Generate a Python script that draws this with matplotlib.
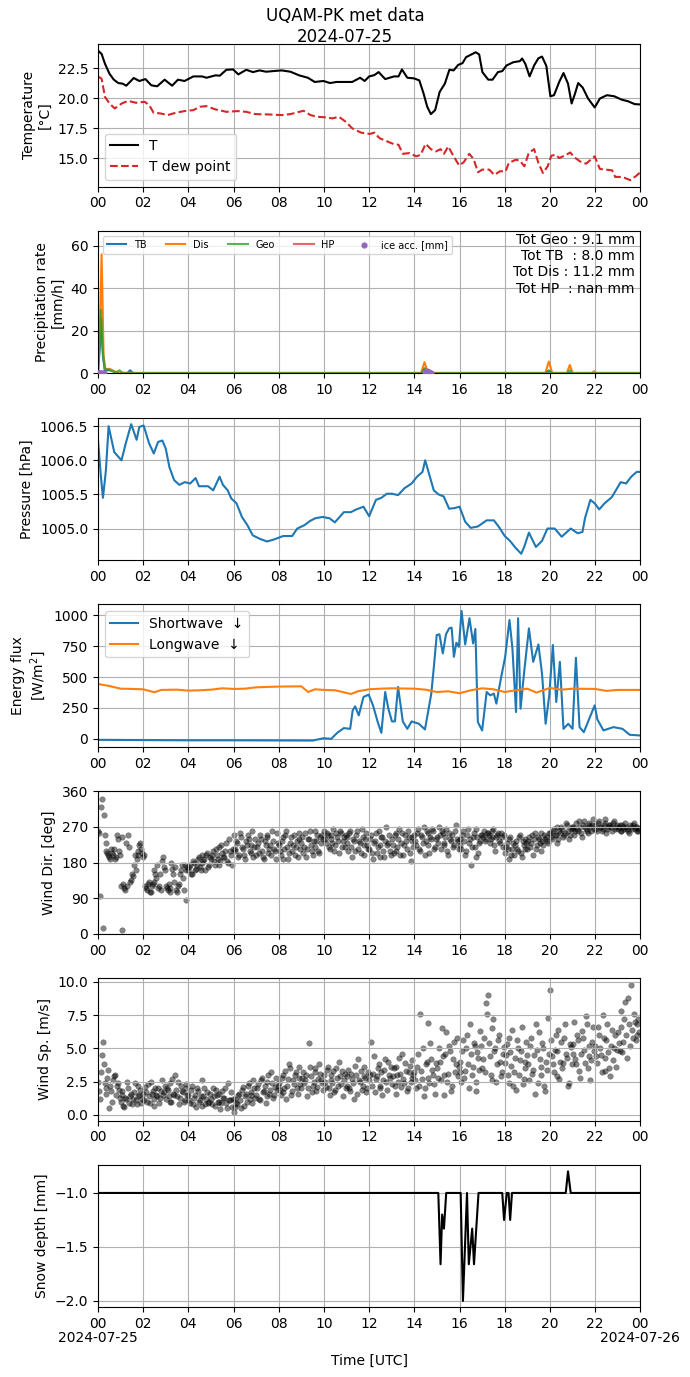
import numpy as np
import pandas as pd
import matplotlib
matplotlib.use("Agg")
import matplotlib.pyplot as plt
import matplotlib.dates as mdates
from matplotlib.ticker import FuncFormatter

BASE = pd.Timestamp("2024-07-25 00:00")

# ---------------- data (hours since 00 UTC) ----------------
temp_h = [0, 0.16, 0.31, 0.51, 0.7, 0.9, 1.09, 1.25, 1.44, 1.58, 1.83, 2.1, 2.36, 2.62,
          2.95, 3.28, 3.54, 3.83, 4.22, 4.61, 4.8, 5.2, 5.39, 5.68, 5.98, 6.21, 6.56,
          6.86, 7.15, 7.44, 7.73, 8.13, 8.52, 8.9, 9.29, 9.59, 9.98, 10.27, 10.56,
          10.86, 11.25, 11.6, 11.8, 12.0, 12.23, 12.42, 12.71, 13.1, 13.3, 13.45, 13.69,
          13.98, 14.22, 14.41, 14.57, 14.73, 14.92, 15.12, 15.35, 15.55, 15.74, 15.94,
          16.13, 16.29, 16.52, 16.72, 16.87, 17.01, 17.27, 17.46, 17.7, 17.89, 18.08,
          18.38, 18.67, 18.77, 18.91, 19.1, 19.3, 19.49, 19.65, 19.84, 20.02, 20.18,
          20.41, 20.6, 20.8, 20.96, 21.11, 21.25, 21.45, 21.69, 21.98, 22.21, 22.52,
          22.85, 23.16, 23.45, 23.75, 24.0]
temp_T = [23.96, 23.68, 22.86, 22.03, 21.54, 21.26, 21.21, 21.04, 21.40, 21.68, 21.43,
          21.59, 21.07, 20.99, 21.54, 21.04, 21.54, 21.43, 21.81, 21.81, 21.70, 21.90,
          21.87, 22.36, 22.39, 21.98, 22.36, 22.17, 22.31, 22.20, 22.25, 22.31, 22.20,
          21.90, 21.70, 21.35, 21.43, 21.26, 21.35, 21.35, 21.35, 21.70, 21.43, 21.81,
          21.92, 22.17, 21.59, 21.81, 21.81, 22.39, 21.70, 21.65, 21.48, 20.38, 19.29,
          18.68, 19.01, 20.52, 21.21, 22.36, 22.31, 22.77, 22.91, 23.41, 23.63, 23.82,
          23.63, 22.17, 21.54, 21.54, 22.17, 22.25, 22.72, 22.99, 23.08, 23.30, 22.86,
          21.81, 22.72, 23.32, 23.46, 22.69, 20.16, 20.25, 21.35, 22.09, 21.21, 19.56,
          20.38, 21.26, 20.88, 19.97, 19.23, 19.97, 20.25, 20.16, 19.89, 19.75, 19.51,
          19.48]

dew_h = [0, 0.16, 0.31, 0.51, 0.74, 1.05, 1.33, 1.68, 2.07, 2.27, 2.46, 2.75, 3.09,
         3.44, 3.83, 4.22, 4.51, 4.8, 5.2, 5.68, 6.17, 6.56, 6.95, 7.54, 8.13, 8.52,
         9.1, 9.4, 9.69, 10.08, 10.37, 10.66, 10.96, 11.25, 11.64, 12.03, 12.23, 12.46,
         12.81, 13.1, 13.3, 13.49, 13.79, 14.08, 14.28, 14.5, 14.73, 14.96, 15.16, 15.31,
         15.5, 15.74, 15.98, 16.18, 16.43, 16.62, 16.82, 17.01, 17.31, 17.54, 17.79,
         18.04, 18.18, 18.49, 18.67, 18.87, 19.06, 19.3, 19.49, 19.69, 19.9, 20.06,
         20.25, 20.41, 20.64, 20.9, 21.07, 21.33, 21.6, 21.98, 22.21, 22.46, 22.75,
         22.89, 23.22, 23.55, 23.8, 24.0]
dew_T = [21.81, 21.62, 20.11, 19.56, 19.15, 19.56, 19.78, 19.62, 19.70, 19.42, 18.79,
         18.74, 18.60, 18.79, 18.93, 19.01, 19.29, 19.34, 19.07, 18.87, 18.93, 18.87,
         18.68, 18.65, 18.60, 18.68, 18.96, 18.60, 18.46, 18.41, 18.32, 18.46, 18.05,
         17.50, 17.14, 17.03, 17.14, 16.68, 16.40, 16.18, 16.13, 15.38, 15.44, 15.17,
         15.30, 16.21, 15.77, 15.58, 15.77, 15.38, 15.99, 15.17, 14.42, 14.67, 15.38,
         14.95, 13.85, 14.07, 14.07, 13.63, 13.93, 13.93, 14.62, 14.89, 14.81, 14.34,
         15.44, 15.77, 14.62, 13.79, 14.34, 15.22, 15.30, 15.03, 15.22, 15.49, 15.11,
         14.75, 14.56, 15.17, 14.12, 14.07, 14.01, 13.46, 13.46, 13.19, 13.52, 13.85]

# precipitation rate [mm/h]
tb_h = [0, 0.08, 0.13, 0.22, 0.3, 0.6, 0.8, 1.3, 1.42, 1.55, 14.3, 14.45, 14.6, 19.8, 19.95, 20.1, 24]
tb_v = [0.5, 12, 26, 8, 1.5, 1.5, 0.3, 0.2, 1.5, 0.2, 0.2, 2.0, 0.2, 0.2, 1.0, 0.2, 0.2]
dis_h = [0, 0.08, 0.16, 0.25, 0.33, 0.45, 0.6, 0.7, 0.8, 0.9, 1.0, 14.3, 14.45, 14.6,
         19.8, 19.95, 20.1, 20.75, 20.88, 21.0, 21.85, 21.95, 22.05, 24]
dis_v = [0.5, 20, 56, 8, 2, 2.2, 1.8, 1.0, 0.8, 0.4, 0.3, 0.3, 5.3, 0.3, 0.3, 5.6, 0.3,
         0.3, 4.0, 0.3, 0.3, 1.0, 0.3, 0.3]
geo_h = [0, 0.08, 0.13, 0.22, 0.3, 0.5, 0.6, 0.8, 0.95, 1.1, 1.3, 14.3, 14.45, 14.6,
         19.8, 19.95, 20.1, 20.75, 20.88, 21.0, 24]
geo_v = [1, 15, 30, 10, 2, 1.8, 1.2, 0.4, 1.5, 0.2, 0.1, 0.1, 2.5, 0.1, 0.1, 1.5, 0.1,
         0.1, 1.5, 0.1, 0.1]
hp_h = [0, 24]
hp_v = [np.nan, np.nan]
ice_h = [0.0, 0.05, 0.1, 0.15, 0.2, 0.25, 14.45, 14.55, 14.65, 14.75]
ice_v = [0.2, 0.2, 0.3, 0.3, 0.2, 0.2, 0.8, 1.0, 0.7, 0.3]
tot_labels = ["Tot Geo : 9.1 mm", "Tot TB  : 8.0 mm", "Tot Dis : 11.2 mm", "Tot HP  : nan mm"]

# pressure [hPa]
pres_h = [0.0, 0.13, 0.22, 0.35, 0.47, 0.72, 1.04, 1.23, 1.47, 1.71, 1.83, 2.02, 2.26,
          2.47, 2.66, 2.85, 3.0, 3.16, 3.37, 3.6, 3.84, 4.08, 4.32, 4.47, 4.87, 5.1,
          5.38, 5.53, 5.74, 5.9, 6.13, 6.37, 6.61, 6.85, 7.16, 7.48, 7.79, 8.19, 8.59,
          8.82, 9.14, 9.38, 9.61, 9.93, 10.25, 10.48, 10.88, 11.19, 11.43, 11.75, 12.0,
          12.3, 12.54, 12.78, 13.01, 13.28, 13.56, 13.88, 14.12, 14.36, 14.48, 14.67,
          14.86, 15.07, 15.3, 15.54, 15.78, 16.0, 16.25, 16.49, 16.81, 17.2, 17.52,
          17.75, 18.0, 18.23, 18.47, 18.73, 18.86, 19.07, 19.38, 19.65, 19.89, 20.21,
          20.52, 20.92, 21.23, 21.44, 21.55, 21.79, 21.98, 22.18, 22.42, 22.74, 23.13,
          23.37, 23.6, 23.84, 24.0]
pres_v = [1006.30, 1005.76, 1005.45, 1005.85, 1006.50, 1006.12, 1006.00, 1006.25,
          1006.53, 1006.30, 1006.49, 1006.51, 1006.25, 1006.10, 1006.27, 1006.29,
          1006.17, 1005.90, 1005.71, 1005.64, 1005.68, 1005.66, 1005.74, 1005.62,
          1005.62, 1005.56, 1005.76, 1005.64, 1005.56, 1005.44, 1005.37, 1005.17,
          1005.05, 1004.90, 1004.85, 1004.81, 1004.84, 1004.89, 1004.89, 1005.00,
          1005.05, 1005.11, 1005.15, 1005.17, 1005.15, 1005.09, 1005.24, 1005.24,
          1005.28, 1005.32, 1005.18, 1005.42, 1005.45, 1005.51, 1005.51, 1005.49,
          1005.59, 1005.66, 1005.76, 1005.83, 1006.00, 1005.78, 1005.56, 1005.50,
          1005.47, 1005.29, 1005.30, 1005.32, 1005.10, 1005.01, 1005.03, 1005.12,
          1005.12, 1005.02, 1004.89, 1004.82, 1004.72, 1004.63, 1004.73, 1004.94,
          1004.73, 1004.82, 1005.00, 1005.00, 1004.88, 1005.00, 1004.93, 1004.95,
          1005.15, 1005.42, 1005.37, 1005.28, 1005.37, 1005.46, 1005.68, 1005.66,
          1005.76, 1005.83, 1005.83]

# energy flux [W/m2]
lw_h = [0, 0.5, 1, 1.5, 2, 2.5, 2.8, 3.5, 4, 4.5, 5, 5.5, 6, 6.5, 7, 8, 9, 9.3, 9.6,
        10, 10.5, 11.2, 11.5, 12, 12.5, 13, 14, 14.5, 15, 15.5, 16, 16.5, 17, 17.5, 18,
        18.5, 19, 19.4, 20, 20.5, 21, 22, 22.5, 23, 24]
lw_v = [444, 428, 406, 404, 401, 377, 396, 398, 390, 393, 398, 409, 404, 406, 417, 423,
        425, 379, 401, 396, 393, 363, 385, 401, 406, 409, 406, 398, 379, 385, 369, 393,
        409, 401, 379, 393, 406, 374, 412, 398, 406, 404, 388, 396, 396]
sw_h = [0, 2, 4, 6, 8, 9.5, 9.98, 10.32, 10.59, 10.88, 11.16, 11.27, 11.38, 11.54, 11.75,
        11.98, 12.17, 12.38, 12.54, 12.71, 12.85, 13.01, 13.14, 13.28, 13.49, 13.69,
        13.88, 14.2, 14.47, 14.75, 14.86, 14.99, 15.11, 15.26, 15.4, 15.54, 15.65,
        15.75, 15.86, 15.97, 16.09, 16.25, 16.44, 16.6, 16.7, 16.81, 17.0, 17.2, 17.36,
        17.52, 17.63, 17.83, 18.02, 18.21, 18.34, 18.5, 18.59, 18.7, 18.86, 19.07,
        19.26, 19.49, 19.65, 19.81, 19.97, 20.13, 20.28, 20.44, 20.6, 20.81, 21.0,
        21.15, 21.31, 21.5, 21.98, 22.1, 22.37, 22.81, 23.21, 23.53, 24.0]
sw_v = [-8, -10, -12, -12, -13, -14, 5, 0, 49, 87, 81, 230, 263, 190, 339, 358, 271, 136,
        49, 379, 244, 141, 141, 420, 141, 81, 141, 122, 76, 366, 575, 840, 846, 691,
        846, 894, 900, 664, 778, 745, 1035, 764, 976, 772, 889, 136, 68, 379, 352, 366,
        285, 488, 664, 962, 732, 217, 976, 244, 542, 894, 623, 764, 528, 122, 352, 759,
        298, 623, 81, 122, 81, 656, 95, 54, 271, 157, 68, 95, 81, 33, 27]

# wind direction [deg]: samples at hh:00, hh:05, ... (a) and hh:02:30, hh:07:30, ... (b)
wdir_a = [
    260, 95, 340, 300, 230, 205, 195, 215, 200, 190, 250, 210,
    120, 10, 115, 230, 250, 130, 150, 175, 160, 200, 225, 215,
    195, 120, 110, 130, 105, 125, 160, 140, 115, 150, 185, 170,
    120, 110, 115, 180, 150, 170, 105, 125, 160, 140, 175, 85,
    160, 175, 150, 180, 165, 190, 170, 200, 185, 160, 205, 175,
    190, 210, 175, 200, 220, 185, 205, 195, 230, 180, 210, 175,
    250, 210, 230, 200, 245, 215, 190, 225, 240, 205, 260, 220,
    200, 230, 250, 210, 190, 225, 245, 215, 200, 235, 210, 255,
    225, 200, 245, 215, 260, 190, 230, 210, 250, 220, 195, 240,
    230, 205, 255, 215, 240, 225, 200, 260, 235, 210, 245, 250,
    260, 230, 250, 215, 240, 265, 225, 245, 205, 255, 235, 220,
    245, 210, 260, 195, 235, 250, 215, 230, 265, 200, 240, 225,
    215, 250, 190, 235, 205, 260, 225, 245, 195, 270, 230, 210,
    240, 205, 255, 220, 265, 230, 200, 250, 215, 245, 185, 235,
    250, 225, 265, 210, 245, 270, 235, 255, 205, 240, 260, 220,
    245, 270, 215, 255, 230, 265, 200, 240, 250, 225, 275, 235,
    240, 215, 260, 200, 250, 230, 175, 245, 220, 265, 205, 235,
    250, 260, 240, 255, 230, 245, 265, 210, 250, 235, 255, 220,
    205, 230, 190, 245, 215, 200, 235, 210, 250, 195, 225, 240,
    215, 245, 230, 200, 255, 225, 240, 210, 235, 250, 245, 230,
    255, 240, 265, 250, 230, 260, 270, 245, 255, 275, 240, 265,
    265, 250, 280, 260, 270, 245, 285, 265, 255, 275, 260, 290,
    275, 260, 285, 270, 265, 280, 255, 270, 275, 260, 285, 270,
    265, 275, 260, 270, 280, 265, 255, 270, 275, 265, 270, 260,
]
wdir_b = [
    255, 320, 15, 250, 210, 200, 190, 205, 215, 195, 240, 200,
    245, 125, 110, 120, 220, 135, 145, 200, 190, 210, 230, 205,
    200, 115, 125, 105, 120, 130, 150, 175, 120, 110, 195, 160,
    115, 125, 105, 165, 130, 110, 120, 150, 175, 110, 160, 170,
    170, 150, 185, 160, 175, 195, 160, 180, 190, 200, 170, 195,
    200, 185, 215, 190, 175, 225, 195, 210, 185, 240, 200, 215,
    215, 235, 195, 255, 220, 200, 235, 250, 210, 225, 195, 240,
    220, 205, 240, 195, 235, 250, 205, 225, 260, 215, 190, 230,
    210, 235, 190, 250, 220, 205, 245, 225, 200, 235, 255, 215,
    245, 220, 195, 240, 260, 210, 235, 220, 250, 205, 230, 240,
    240, 255, 220, 250, 230, 210, 255, 235, 260, 220, 245, 250,
    230, 255, 220, 240, 210, 260, 235, 205, 245, 225, 255, 215,
    240, 205, 230, 255, 220, 195, 245, 210, 235, 225, 250, 200,
    225, 250, 210, 240, 200, 255, 225, 235, 260, 205, 245, 220,
    235, 255, 215, 250, 230, 200, 260, 225, 245, 265, 215, 240,
    230, 250, 260, 225, 245, 210, 255, 235, 220, 260, 240, 215,
    225, 250, 235, 210, 265, 240, 220, 255, 195, 245, 230, 250,
    245, 235, 255, 250, 240, 260, 225, 245, 255, 230, 245, 250,
    220, 215, 240, 200, 230, 225, 215, 245, 205, 235, 215, 230,
    235, 220, 250, 240, 215, 245, 230, 255, 225, 240, 235, 255,
    245, 260, 250, 270, 240, 255, 265, 250, 280, 260, 250, 270,
    270, 260, 265, 285, 255, 275, 270, 260, 280, 270, 275, 265,
    265, 280, 270, 260, 275, 290, 265, 275, 270, 280, 265, 275,
    270, 260, 275, 265, 270, 260, 275, 265, 280, 270, 260, 265,
]

# wind speed [m/s], same sampling as wind direction
wspd_a = [
    2.5, 1.2, 4.5, 3.8, 2.0, 2.8, 0.5, 1.8, 2.6, 3.0, 2.2, 1.9,
    1.0, 1.5, 0.6, 1.2, 2.0, 1.4, 0.8, 1.7, 1.1, 2.2, 1.5, 0.9,
    1.6, 2.1, 1.0, 1.4, 2.5, 1.8, 0.7, 1.5, 2.0, 1.3, 2.6, 1.7,
    1.2, 1.9, 2.4, 1.0, 1.6, 3.0, 1.4, 0.8, 2.2, 1.7, 1.1, 2.0,
    1.5, 0.9, 2.2, 1.3, 0.6, 1.8, 1.1, 2.6, 1.4, 0.8, 1.7, 1.0,
    1.2, 2.0, 0.7, 1.5, 1.0, 0.4, 1.8, 1.3, 0.9, 2.4, 1.1, 0.6,
    0.2, 1.2, 0.8, 1.6, 0.5, 2.1, 1.4, 1.0, 2.4, 1.7, 0.9, 2.0,
    1.5, 2.3, 1.1, 2.8, 1.8, 0.9, 2.5, 1.6, 3.2, 1.3, 2.1, 1.9,
    2.4, 1.5, 3.0, 2.0, 1.2, 2.7, 3.5, 1.8, 2.3, 3.2, 1.6, 2.8,
    2.0, 3.2, 2.6, 1.4, 5.4, 2.9, 2.2, 3.5, 1.8, 2.7, 3.1, 2.4,
    3.0, 2.1, 3.6, 1.5, 2.6, 3.3, 1.9, 2.8, 4.0, 2.3, 1.4, 3.1,
    2.2, 3.4, 1.8, 2.7, 1.2, 3.0, 4.2, 2.5, 1.9, 3.6, 2.8, 2.0,
    2.6, 5.5, 3.1, 1.7, 2.9, 3.8, 2.2, 1.5, 3.4, 2.5, 4.0, 2.8,
    2.3, 3.5, 1.6, 3.0, 4.3, 2.1, 2.7, 3.9, 1.8, 3.2, 2.5, 4.1,
    3.2, 2.0, 4.6, 7.6, 2.7, 1.4, 3.8, 6.9, 2.4, 4.2, 3.0, 1.6,
    3.5, 5.0, 2.6, 4.4, 1.5, 6.2, 3.1, 4.8, 2.2, 5.5, 3.8, 2.9,
    4.0, 2.5, 5.6, 3.3, 6.0, 2.0, 4.6, 3.6, 5.2, 1.8, 4.3, 6.3,
    3.5, 5.8, 8.4, 9.0, 4.4, 2.6, 7.2, 5.0, 3.8, 6.0, 2.9, 4.6,
    3.9, 5.3, 2.4, 4.7, 6.4, 3.2, 1.9, 5.0, 4.1, 6.6, 2.7, 3.5,
    4.5, 2.6, 5.8, 3.4, 1.6, 4.9, 6.2, 3.0, 5.4, 2.2, 4.0, 7.3,
    9.4, 4.4, 3.2, 6.0, 4.8, 2.7, 5.5, 3.9, 6.8, 4.3, 2.4, 5.1,
    4.6, 7.0, 3.8, 5.6, 2.8, 6.3, 4.9, 7.4, 3.5, 5.2, 4.1, 6.6,
    5.2, 3.9, 6.0, 4.5, 7.5, 3.3, 5.6, 4.7, 2.9, 6.4, 5.0, 3.6,
    6.2, 4.8, 7.8, 5.5, 8.5, 4.3, 6.8, 9.8, 5.8, 7.0, 6.0, 7.2,
]
wspd_b = [
    1.8, 3.2, 5.5, 2.4, 1.6, 3.4, 2.2, 1.0, 2.9, 1.5, 2.4, 1.3,
    1.8, 0.7, 1.3, 2.5, 0.9, 1.6, 1.2, 2.4, 0.8, 1.4, 1.9, 1.2,
    1.1, 1.7, 2.3, 0.9, 1.6, 1.2, 2.0, 1.4, 0.9, 1.8, 1.5, 2.2,
    2.0, 1.4, 1.0, 2.7, 1.5, 1.9, 2.5, 1.3, 1.8, 1.0, 2.3, 1.5,
    1.1, 1.9, 0.8, 1.5, 2.0, 1.0, 1.4, 0.7, 2.0, 1.2, 0.9, 1.6,
    0.8, 1.4, 1.9, 1.0, 1.6, 0.9, 1.3, 2.0, 0.5, 1.1, 1.7, 1.2,
    0.6, 0.9, 1.5, 1.1, 1.9, 0.7, 1.6, 2.2, 1.2, 1.5, 2.6, 1.3,
    2.0, 1.2, 2.6, 1.7, 2.2, 1.4, 3.0, 1.9, 2.4, 1.5, 2.8, 2.2,
    1.9, 2.8, 1.7, 3.3, 2.2, 3.8, 1.5, 2.6, 3.0, 2.0, 3.6, 2.3,
    2.8, 2.4, 3.0, 2.0, 3.6, 1.7, 2.5, 3.2, 2.1, 3.8, 2.6, 1.9,
    2.5, 3.4, 2.0, 3.0, 2.4, 1.7, 3.5, 2.2, 2.9, 3.3, 2.6, 2.0,
    2.9, 2.0, 3.1, 2.4, 3.7, 1.6, 2.6, 3.3, 2.2, 2.9, 1.7, 3.2,
    3.0, 2.2, 4.4, 2.7, 3.5, 2.0, 3.2, 2.6, 4.2, 1.9, 3.0, 3.6,
    2.9, 2.2, 3.6, 2.5, 3.1, 4.6, 2.4, 3.3, 2.0, 3.7, 2.8, 3.0,
    2.6, 3.6, 2.2, 3.3, 5.0, 2.0, 4.0, 2.8, 5.4, 3.4, 2.3, 3.9,
    2.8, 4.0, 6.5, 3.0, 4.6, 2.5, 5.2, 1.8, 4.2, 3.2, 5.8, 3.6,
    3.2, 4.8, 2.8, 5.0, 3.8, 6.8, 3.0, 5.4, 2.5, 4.7, 3.4, 5.2,
    4.2, 3.2, 7.6, 5.4, 3.0, 6.5, 4.8, 2.5, 5.6, 4.0, 3.2, 5.1,
    4.5, 3.0, 5.8, 3.7, 2.2, 4.3, 5.6, 3.0, 4.8, 2.3, 4.0, 5.5,
    3.8, 5.2, 3.1, 4.5, 6.8, 2.4, 4.2, 3.6, 5.0, 1.8, 3.4, 4.6,
    5.6, 3.8, 4.9, 2.9, 6.4, 4.0, 3.5, 5.8, 4.6, 2.2, 5.3, 3.8,
    5.3, 4.2, 6.0, 3.3, 4.6, 5.8, 3.9, 6.8, 4.4, 2.6, 5.5, 4.8,
    4.4, 6.6, 5.0, 3.2, 5.8, 4.3, 6.8, 3.5, 5.2, 4.1, 6.0, 4.9,
    5.4, 6.6, 4.7, 7.2, 6.0, 8.8, 5.2, 6.4, 7.6, 5.6, 6.8, 6.2,
]

# snow depth [mm]
snow_h = [0, 15.06, 15.16, 15.23, 15.31, 15.41, 16.05, 16.15, 16.33, 16.41, 16.56, 16.64,
          16.84, 17.89, 17.97, 18.09, 18.17, 18.24, 18.32, 20.7, 20.8, 20.92, 24]
snow_v = [-1.0, -1.0, -1.66, -1.2, -1.33, -1.0, -1.0, -2.0, -1.0, -1.66, -1.33, -1.66,
          -1.0, -1.0, -1.25, -1.0, -1.0, -1.25, -1.0, -1.0, -0.8, -1.0, -1.0]


def tt(hours):
    return BASE + pd.to_timedelta(np.asarray(hours, dtype=float), unit="h")


wind_ta = BASE + pd.to_timedelta(np.arange(len(wdir_a)) * 5.0, unit="min")
wind_tb = BASE + pd.to_timedelta(np.arange(len(wdir_b)) * 5.0 + 2.5, unit="min")

# ---------------- figure ----------------
fig, axes = plt.subplots(7, 1, figsize=(6.9, 13.77), dpi=100)
fig.subplots_adjust(left=0.142, right=0.928, top=0.968, bottom=0.0505, hspace=0.31)
fig.suptitle("UQAM-PK met data\n2024-07-25", fontsize=12, y=0.995)

ax = axes[0]
ax.plot(tt(temp_h), temp_T, color="black", lw=1.5, label="T")
ax.plot(tt(dew_h), dew_T, color="tab:red", ls="--", lw=1.5, label="T dew point")
ax.set_ylabel("Temperature\n[°C]")
ax.legend(loc="lower left")

ax = axes[1]
ax.plot(tt(tb_h), tb_v, color="tab:blue", lw=1.5, label="TB")
ax.plot(tt(dis_h), dis_v, color="tab:orange", lw=1.5, label="Dis")
ax.plot(tt(geo_h), geo_v, color="tab:green", lw=1.5, alpha=0.8, label="Geo")
ax.plot(tt(hp_h), hp_v, color="tab:red", lw=1.5, alpha=0.7, label="HP")
ax.scatter(tt(ice_h), ice_v, color="tab:purple", s=12, label="ice acc. [mm]", zorder=3)
ax.set_ylim(0, 67)
ax.set_ylabel("Precipitation rate\n[mm/h]")
ax.legend(loc="upper left", ncol=5, fontsize=7)
ax.text(0.99, 0.985, "\n".join(tot_labels), transform=ax.transAxes, ha="right", va="top",
        multialignment="right", fontsize=10)

ax = axes[2]
ax.plot(tt(pres_h), pres_v, color="tab:blue", lw=1.5)
ax.set_ylabel("Pressure [hPa]")

ax = axes[3]
ax.plot(tt(sw_h), sw_v, color="tab:blue", lw=1.5, label="Shortwave  ↓")
ax.plot(tt(lw_h), lw_v, color="tab:orange", lw=1.5, label="Longwave  ↓")
ax.set_ylabel("Energy flux\n[W/m$^2$]")
ax.legend(loc="upper left")

ax = axes[4]
ax.scatter(wind_ta, wdir_a, color="black", s=16, alpha=0.48, linewidths=0.3)
ax.scatter(wind_tb, wdir_b, color="black", s=16, alpha=0.48, linewidths=0.3)
ax.set_ylim(0, 360)
ax.set_yticks([0, 90, 180, 270, 360])
ax.set_ylabel("Wind Dir. [deg]")

ax = axes[5]
ax.scatter(wind_ta, wspd_a, color="black", s=16, alpha=0.48, linewidths=0.3)
ax.scatter(wind_tb, wspd_b, color="black", s=16, alpha=0.48, linewidths=0.3)
ax.set_ylabel("Wind Sp. [m/s]")
ax.set_yticks([0.0, 2.5, 5.0, 7.5, 10.0])
ax.set_ylim(-0.44, 10.29)

ax = axes[6]
ax.plot(tt(snow_h), snow_v, color="black", lw=1.5)
ax.set_ylabel("Snow depth [mm]")
ax.set_xlabel("Time [UTC]", labelpad=16)
ax.set_yticks([-2.0, -1.5, -1.0])
ax.annotate("2024-07-25", xy=(0, 0), xycoords="axes fraction", xytext=(0, -17),
            textcoords="offset points", ha="center", va="top")
ax.annotate("2024-07-26", xy=(1, 0), xycoords="axes fraction", xytext=(0, -17),
            textcoords="offset points", ha="center", va="top")


def fmt_hour(x, pos=None):
    return mdates.num2date(x).strftime("%H")


for ax in axes:
    ax.set_xlim(BASE, BASE + pd.Timedelta(hours=24))
    ax.xaxis.set_major_locator(mdates.HourLocator(interval=2))
    ax.xaxis.set_major_formatter(FuncFormatter(fmt_hour))
    ax.grid(True)

fig.savefig("out.png", dpi=100)
